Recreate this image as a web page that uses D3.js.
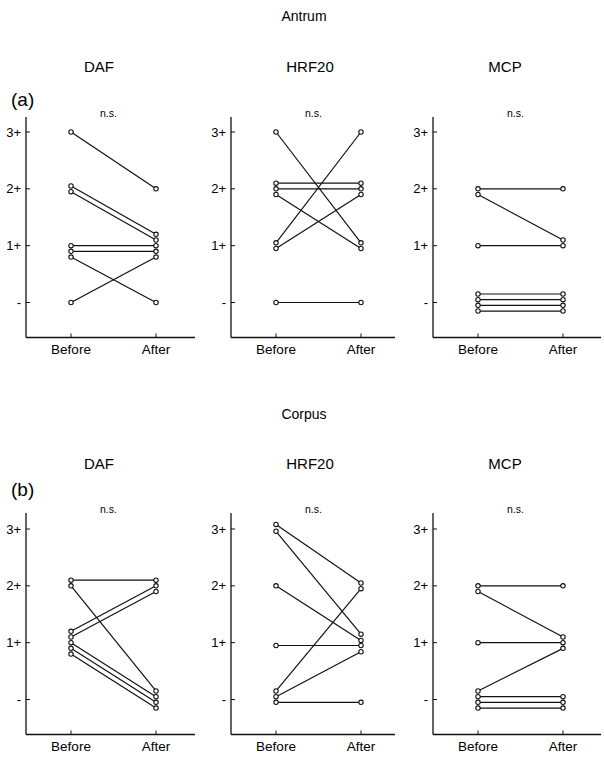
<!DOCTYPE html>
<html>
<head>
<meta charset="utf-8">
<script src="https://cdn.jsdelivr.net/npm/d3@7"></script>
<style>
  body { margin: 0; background: #fff; }
  svg { display: block; font-family: "Liberation Sans", Arial, sans-serif; }
</style>
</head>
<body>
<svg id="chart" width="604" height="765"></svg>
<script>
// grading scale and time points
const gradeTicks = [0, 1, 2, 3];
const gradeLabels = ["-", "1+", "2+", "3+"];
const timePoints = ["Before", "After"];
const drugs = ["DAF", "HRF20", "MCP"];

// Antrum, each patient: before -> after
const antrumDAFBefore = [3, 2.05, 1.95, 1.0, 0.9, 0.8, 0];
const antrumDAFAfter = [2, 1.2, 1.1, 1.0, 0.9, 0, 0.8];
const antrumHRFBefore = [3, 2.1, 2.0, 1.9, 1.05, 0.95, 0];
const antrumHRFAfter = [1.05, 2.1, 2.0, 0.95, 3, 1.9, 0];
const antrumMCPBefore = [2, 1.9, 1.0, 0.15, 0.05, -0.05, -0.15];
const antrumMCPAfter = [2, 1.1, 1.0, 0.15, 0.05, -0.05, -0.15];

// Corpus
const corpusDAFBefore = [2.1, 2.0, 1.2, 1.1, 1.0, 0.9, 0.8];
const corpusDAFAfter = [2.1, 0.15, 2.0, 1.9, 0.05, -0.05, -0.15];
const corpusHRFBefore = [3.08, 2.96, 2.0, 0.95, 0.15, 0.05, -0.05];
const corpusHRFAfter = [2.05, 1.15, 1.04, 0.95, 1.95, 0.84, -0.05];
const corpusMCPBefore = [2, 1.9, 1.0, 0.15, 0.05, -0.05, -0.15];
const corpusMCPAfter = [2, 1.1, 1.0, 0.9, 0.05, -0.05, -0.15];

const svg = d3.select("#chart");

function drawPanel(left, right, top, bottom, zeroY, threeY, before, after) {
  const g = svg.append("g");
  const y = d3.scaleLinear().domain([0, 3]).range([zeroY, threeY]);
  const x = d3.scalePoint().domain(timePoints).range([left + 45, left + 130]);

  // y axis
  g.append("line").attr("x1", left).attr("x2", left)
    .attr("y1", top).attr("y2", bottom)
    .attr("stroke", "#111").attr("stroke-width", 1.3);
  g.selectAll(".yt").data(gradeTicks).enter().append("line")
    .attr("x1", left).attr("x2", left + 4)
    .attr("y1", d => y(d)).attr("y2", d => y(d))
    .attr("stroke", "#111").attr("stroke-width", 1);
  g.selectAll(".yl").data(gradeTicks).enter().append("text")
    .attr("x", left - 5).attr("y", d => y(d) + 4.5)
    .attr("text-anchor", "end").attr("font-size", 13)
    .text((d, i) => gradeLabels[i]);

  // x axis
  g.append("line").attr("x1", left).attr("x2", right)
    .attr("y1", bottom).attr("y2", bottom)
    .attr("stroke", "#111").attr("stroke-width", 1.3);
  g.selectAll(".xt").data(timePoints).enter().append("line")
    .attr("x1", d => x(d)).attr("x2", d => x(d))
    .attr("y1", bottom).attr("y2", bottom - 4)
    .attr("stroke", "#111").attr("stroke-width", 1);
  g.selectAll(".xl").data(timePoints).enter().append("text")
    .attr("x", d => x(d)).attr("y", bottom + 16)
    .attr("text-anchor", "middle").attr("font-size", 13.5)
    .text(d => d);

  g.append("text").attr("x", (x("Before") + x("After")) / 2 - 5).attr("y", top)
    .attr("text-anchor", "middle").attr("font-size", 10.5).text("n.s.");

  const pairs = before.map((b, i) => ({ b, a: after[i] }));
  g.selectAll(".pl").data(pairs).enter().append("line")
    .attr("x1", x("Before")).attr("x2", x("After"))
    .attr("y1", d => y(d.b)).attr("y2", d => y(d.a))
    .attr("stroke", "#111").attr("stroke-width", 1.2);
  pairs.forEach(p => {
    [["Before", p.b], ["After", p.a]].forEach(([t, v]) => {
      g.append("circle").attr("cx", x(t)).attr("cy", y(v)).attr("r", 2.2)
        .attr("fill", "#fff").attr("stroke", "#111").attr("stroke-width", 1.1);
    });
  });
}

const panelX = [
  { left: 26, right: 195, label: 99 },
  { left: 231, right: 395, label: 310 },
  { left: 433, right: 601, label: 505 }
];

function drawRow(title, titleY, drugY, tag, tagY, top, bottom, zeroY, threeY, sets) {
  svg.append("text").attr("x", 304).attr("y", titleY)
    .attr("text-anchor", "middle").attr("font-size", 14).text(title);
  drugs.forEach((d, i) => {
    const p = panelX[i];
    svg.append("text").attr("x", p.label).attr("y", drugY)
      .attr("text-anchor", "middle").attr("font-size", 15).text(d);
    drawPanel(p.left, p.right, top, bottom, zeroY, threeY, sets[i][0], sets[i][1]);
  });
  svg.append("text").attr("x", 11).attr("y", tagY)
    .attr("font-size", 19).text(tag);
}

drawRow("Antrum", 21, 72, "(a)", 106, 117, 337.5, 302.5, 132, [
  [antrumDAFBefore, antrumDAFAfter],
  [antrumHRFBefore, antrumHRFAfter],
  [antrumMCPBefore, antrumMCPAfter]
]);

drawRow("Corpus", 419, 469, "(b)", 496, 513, 734.5, 699.5, 529, [
  [corpusDAFBefore, corpusDAFAfter],
  [corpusHRFBefore, corpusHRFAfter],
  [corpusMCPBefore, corpusMCPAfter]
]);
</script>
</body>
</html>
